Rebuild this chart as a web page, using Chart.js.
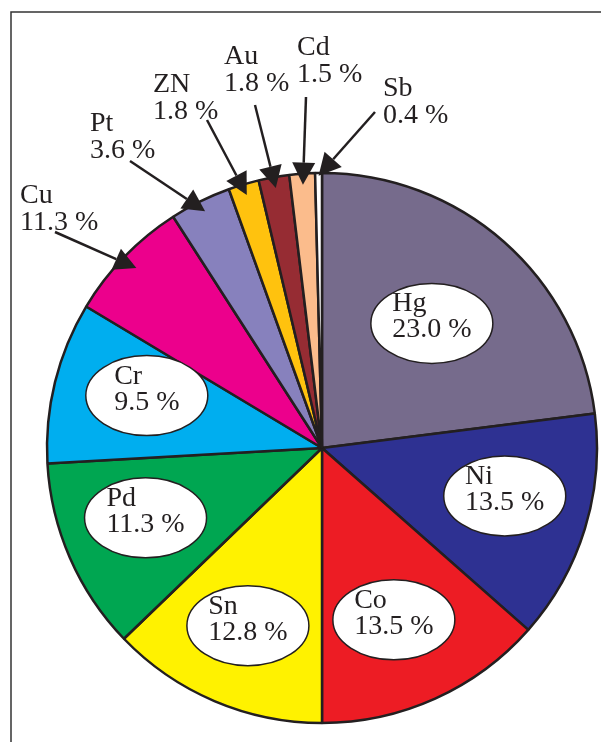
<!DOCTYPE html>
<html>
<head>
<meta charset="UTF-8">
<title>Metal shares</title>
<script src="https://cdn.jsdelivr.net/npm/chart.js"></script>
<style>
  body { margin: 0; background: #fff; }
  canvas { display: block; }
</style>
</head>
<body>
<canvas id="pieChart" width="601" height="742"></canvas>
<script>
// slices, clockwise from 12 o'clock
const metals = ['Hg', 'Ni', 'Co', 'Sn', 'Pd', 'Cr', 'Cu', 'Pt', 'ZN', 'Au', 'Cd', 'Sb'];
// slice sizes as drawn (the Cu wedge is ~7.3 % of the circle)
const shares = [23.0, 13.5, 13.5, 12.8, 11.3, 9.5, 7.3, 3.6, 1.8, 1.8, 1.5, 0.4];
// percentages as printed on the figure (Cu label says 11.3)
const printed = ['23.0', '13.5', '13.5', '12.8', '11.3', '9.5', '11.3', '3.6', '1.8', '1.8', '1.5', '0.4'];
const colors = ['#766b8c', '#2e3192', '#ed1c24', '#fff200', '#00a651', '#00aeef',
                '#ec008c', '#8781bd', '#ffc20e', '#962c33', '#fbbc8c', '#ffffff'];

const FONT = '28px "Liberation Serif", "Times New Roman", serif';
const INK = '#231f20';

// labels in white ellipses: [fraction of radius, angle nudge in degrees]
const inside = {
    Hg: [0.604, 0], Ni: [0.687, -2.4], Co: [0.677, 1.6],
    Sn: [0.70, -0.4], Pd: [0.69, 2], Cr: [0.665, 2.8]
};
// labels outside with arrows: text spot, arrow tail, arrow tip (fraction of radius)
const outside = {
    Cu: { x: 20, y: 203, tail: [55, 232], tip: 0.94 },
    Pt: { x: 90, y: 131, tail: [130, 161], tip: 0.96 },
    ZN: { x: 153, y: 92, tail: [207, 120], tip: 0.96 },
    Au: { x: 224, y: 64, tail: [255, 105], tip: 0.96 },
    Cd: { x: 297, y: 55, tail: [306, 97], tip: 0.96 },
    Sb: { x: 383, y: 96, tail: [375, 112], tip: 0.99 }
};

function arrow(ctx, x1, y1, x2, y2) {
    const a = Math.atan2(y2 - y1, x2 - x1);
    const len = 22, half = 11.5;
    const bx = x2 - Math.cos(a) * len, by = y2 - Math.sin(a) * len;
    ctx.strokeStyle = INK;
    ctx.lineWidth = 2.5;
    ctx.beginPath();
    ctx.moveTo(x1, y1);
    ctx.lineTo(bx, by);
    ctx.stroke();
    ctx.fillStyle = INK;
    ctx.beginPath();
    ctx.moveTo(x2, y2);
    ctx.lineTo(bx - Math.sin(a) * half, by + Math.cos(a) * half);
    ctx.lineTo(bx + Math.sin(a) * half, by - Math.cos(a) * half);
    ctx.closePath();
    ctx.fill();
}

const labelPlugin = {
    id: 'labels',
    afterDraw(chart) {
        const ctx = chart.ctx;
        const arcs = chart.getDatasetMeta(0).data;
        ctx.save();

        // frame (top and left rules)
        ctx.strokeStyle = '#333';
        ctx.lineWidth = 1.5;
        ctx.beginPath();
        ctx.moveTo(601, 12);
        ctx.lineTo(11, 12);
        ctx.lineTo(11, 742);
        ctx.stroke();

        ctx.font = FONT;
        ctx.textBaseline = 'alphabetic';
        ctx.textAlign = 'left';

        metals.forEach((m, i) => {
            const arc = arcs[i];
            const mid = (arc.startAngle + arc.endAngle) / 2;
            const r = arc.outerRadius;
            const line2 = printed[i] + ' %';

            if (inside[m]) {
                const [f, nudge] = inside[m];
                const a = mid + nudge * Math.PI / 180;
                const cx = arc.x + Math.cos(a) * r * f;
                const cy = arc.y + Math.sin(a) * r * f;
                ctx.fillStyle = '#fff';
                ctx.strokeStyle = INK;
                ctx.lineWidth = 1.5;
                ctx.beginPath();
                ctx.ellipse(cx, cy, 61, 40, 0, 0, Math.PI * 2);
                ctx.fill();
                ctx.stroke();
                const w = Math.max(ctx.measureText(m).width, ctx.measureText(line2).width);
                ctx.fillStyle = INK;
                ctx.fillText(m, cx - w / 2, cy - 12);
                ctx.fillText(line2, cx - w / 2, cy + 14);
            } else {
                const o = outside[m];
                const tx = arc.x + Math.cos(mid) * r * o.tip;
                const ty = arc.y + Math.sin(mid) * r * o.tip;
                ctx.fillStyle = INK;
                ctx.fillText(m, o.x, o.y);
                ctx.fillText(line2, o.x, o.y + 27);
                arrow(ctx, o.tail[0], o.tail[1], tx, ty);
            }
        });
        ctx.restore();
    }
};

new Chart(document.getElementById('pieChart'), {
    type: 'pie',
    data: {
        labels: metals,
        datasets: [{
            data: shares,
            backgroundColor: colors,
            borderColor: INK,
            borderWidth: 2.5,
            hoverOffset: 0
        }]
    },
    options: {
        responsive: false,
        animation: false,
        events: [],
        radius: 275,
        layout: { padding: { left: 43, right: 0, top: 172, bottom: 18 } },
        plugins: {
            legend: { display: false },
            tooltip: { enabled: false }
        }
    },
    plugins: [labelPlugin]
});
</script>
</body>
</html>
